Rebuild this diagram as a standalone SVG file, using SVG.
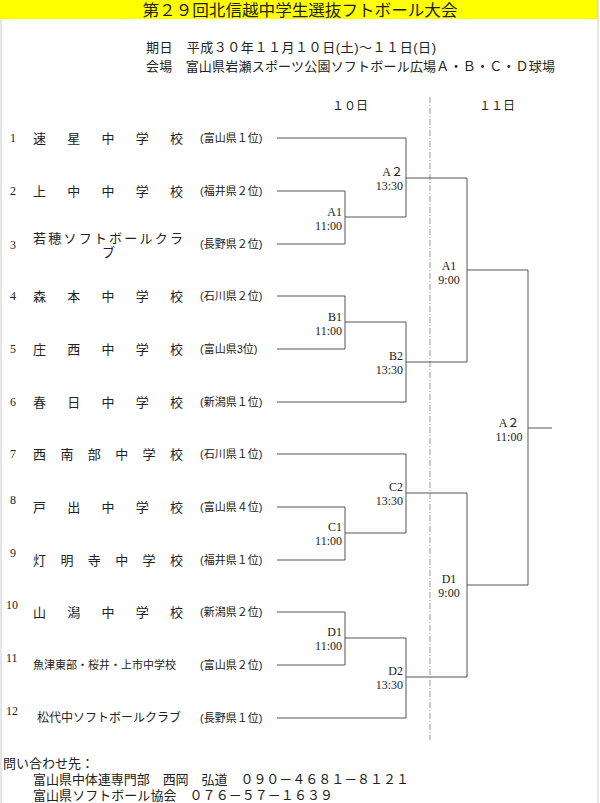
<svg xmlns="http://www.w3.org/2000/svg" width="600" height="803" viewBox="0 0 600 803">
<style>
text{font-family:"Liberation Sans","Noto Sans CJK JP",sans-serif;fill:#222}
.n{font-size:12px;font-family:"Liberation Serif","Noto Sans CJK JP",serif}
.s{font-size:13px}
.p{font-size:11px}
.l{font-size:12px;text-anchor:end;font-family:"Liberation Serif","Noto Sans CJK JP",serif}
.c{font-size:12px;text-anchor:middle;font-family:"Liberation Serif","Noto Sans CJK JP",serif}
.w{fill:none;stroke:#555;stroke-width:1}
</style>
<rect width="600" height="803" fill="#fff"/>
<rect x="0" y="0" width="598" height="19" fill="#ffff00"/>
<line x1="598" y1="0" x2="598" y2="803" stroke="#ccc"/>
<line x1="1" y1="19" x2="1" y2="803" stroke="#ccc"/>
<text x="300" y="16" font-size="16" text-anchor="middle" fill="#000" textLength="315" lengthAdjust="spacingAndGlyphs">第２９回北信越中学生選抜フトボール大会</text>
<text x="146" y="52" font-size="13" textLength="290" lengthAdjust="spacing">期日　平成３０年１１月１０日(土)～１１日(日)</text>
<text x="146" y="71" font-size="13" textLength="409" lengthAdjust="spacing">会場　富山県岩瀬スポーツ公園ソフトボール広場Ａ・Ｂ・Ｃ・Ｄ球場</text>
<text x="350" y="110" font-size="12" text-anchor="middle">１０日</text>
<text x="497" y="110" font-size="12" text-anchor="middle">１１日</text>
<line x1="430" y1="97" x2="430" y2="740" stroke="#999" stroke-dasharray="6,2,1,2"/>
<g id="teams">
<g id="t1"><text class="n" x="10" y="142">1</text><text class="s" x="33" y="143" textLength="150" lengthAdjust="spacing">速星中学校</text><text class="p" x="200" y="142">(富山県１位)</text></g>
<g id="t2"><text class="n" x="10" y="195">2</text><text class="s" x="33" y="196" textLength="150" lengthAdjust="spacing">上中中学校</text><text class="p" x="200" y="195">(福井県２位)</text></g>
<g id="t3"><text class="n" x="10" y="249">3</text><text class="s" x="33" y="243" textLength="150" lengthAdjust="spacing">若穂ソフトボールクラ</text><text class="s" x="102" y="257">ブ</text><text class="p" x="200" y="248">(長野県２位)</text></g>
<g id="t4"><text class="n" x="10" y="300">4</text><text class="s" x="33" y="301" textLength="150" lengthAdjust="spacing">森本中学校</text><text class="p" x="200" y="300">(石川県２位)</text></g>
<g id="t5"><text class="n" x="10" y="353">5</text><text class="s" x="33" y="354" textLength="150" lengthAdjust="spacing">庄西中学校</text><text class="p" x="200" y="353">(富山県3位)</text></g>
<g id="t6"><text class="n" x="10" y="406">6</text><text class="s" x="33" y="407" textLength="150" lengthAdjust="spacing">春日中学校</text><text class="p" x="200" y="406">(新潟県１位)</text></g>
<g id="t7"><text class="n" x="10" y="458">7</text><text class="s" x="33" y="459" textLength="150" lengthAdjust="spacing">西南部中学校</text><text class="p" x="200" y="458">(石川県１位)</text></g>
<g id="t8"><text class="n" x="10" y="504">8</text><text class="s" x="33" y="512" textLength="150" lengthAdjust="spacing">戸出中学校</text><text class="p" x="200" y="511">(富山県４位)</text></g>
<g id="t9"><text class="n" x="10" y="557">9</text><text class="s" x="33" y="565" textLength="150" lengthAdjust="spacing">灯明寺中学校</text><text class="p" x="200" y="564">(福井県１位)</text></g>
<g id="t10"><text class="n" x="6" y="609">10</text><text class="s" x="33" y="617" textLength="150" lengthAdjust="spacing">山潟中学校</text><text class="p" x="200" y="616">(新潟県２位)</text></g>
<g id="t11"><text class="n" x="6" y="662">11</text><text x="33" y="669" font-size="11">魚津東部・桜井・上市中学校</text><text class="p" x="200" y="669">(富山県２位)</text></g>
<g id="t12"><text class="n" x="6" y="715">12</text><text x="37" y="722" font-size="12">松代中ソフトボールクラブ</text><text class="p" x="200" y="722">(長野県１位)</text></g>
</g>
<g id="connectors" class="w">
<polyline points="277,191 345,191 345,244 277,244"/>
<polyline points="277,138 406,138 406,217 345,217"/>
<polyline points="277,296 345,296 345,349 277,349"/>
<polyline points="345,322 406,322 406,402 277,402"/>
<polyline points="406,178 467,178 467,362 406,362"/>
<polyline points="277,507 345,507 345,560 277,560"/>
<polyline points="277,454 406,454 406,533 345,533"/>
<polyline points="277,612 345,612 345,665 277,665"/>
<polyline points="345,638 406,638 406,718 277,718"/>
<polyline points="406,493 467,493 467,677 406,677"/>
<polyline points="467,270 528,270 528,585 467,585"/>
<line x1="528" y1="428" x2="552" y2="428"/>
</g>
<g id="labels">
<text class="l" x="342" y="216">A1</text><text class="l" x="342" y="230">11:00</text>
<text class="l" x="403" y="176">A２</text><text class="l" x="403" y="190">13:30</text>
<text class="l" x="342" y="321">B1</text><text class="l" x="342" y="335">11:00</text>
<text class="l" x="403" y="360">B2</text><text class="l" x="403" y="374">13:30</text>
<text class="c" x="449" y="270">A1</text><text class="c" x="449" y="284">9:00</text>
<text class="l" x="342" y="531">C1</text><text class="l" x="342" y="545">11:00</text>
<text class="l" x="403" y="491">C2</text><text class="l" x="403" y="505">13:30</text>
<text class="l" x="342" y="636">D1</text><text class="l" x="342" y="650">11:00</text>
<text class="l" x="403" y="675">D2</text><text class="l" x="403" y="689">13:30</text>
<text class="c" x="449" y="583">D1</text><text class="c" x="449" y="597">9:00</text>
<text class="c" x="509" y="427">A２</text><text class="c" x="509" y="441">11:00</text>
</g>
<text x="3" y="768" font-size="13">問い合わせ先：</text>
<text x="33" y="784" font-size="13" textLength="376" lengthAdjust="spacing">富山県中体連専門部　西岡　弘道　０９０－４６８１－８１２１</text>
<text x="33" y="800" font-size="13" textLength="300" lengthAdjust="spacing">富山県ソフトボール協会　０７６－５７－１６３９</text>
</svg>
